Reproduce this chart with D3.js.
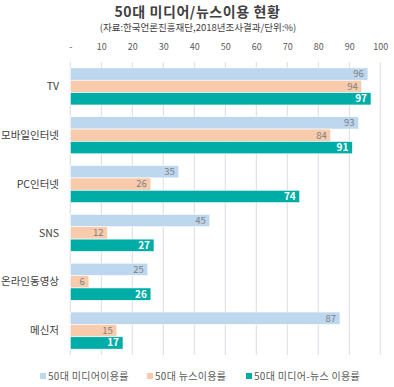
<!DOCTYPE html>
<html><head><meta charset="utf-8">
<script src="https://cdn.jsdelivr.net/npm/d3@7"></script>
<style>body{margin:0;background:#fff}svg{display:block}</style>
</head><body>
<script>
const categories = ["TV","모바일인터넷","PC인터넷","SNS","온라인동영상","메신저"];
const mediaUse = [96,93,35,45,25,87];
const newsUse = [94,84,26,12,6,15];
const mediaNewsUse = [97,91,74,27,26,17];
const seriesNames = ["50대 미디어이용률","50대 뉴스이용률","50대 미디어-뉴스 이용률"];
const tickValues = [0,10,20,30,40,50,60,70,80,90,100];
const tickLabels = ["-","10","20","30","40","50","60","70","80","90","100"];

const W=394,H=387;
const font="'Noto Sans CJK KR','Noto Sans',sans-serif";
const svg=d3.select("body").append("svg").attr("width",W).attr("height",H).style("font-family",font);

const x=d3.scaleLinear().domain([0,100]).range([70.3,380.3]);
const y=d3.scaleBand().domain(categories).range([62,355]).paddingInner(0.24).paddingOuter(0.12);
const sub=d3.scaleBand().domain([0,1,2]).range([0,y.bandwidth()]);
const colors=["#BDD7EE","#F8CBAD","#00ADA6"];
const series=[mediaUse,newsUse,mediaNewsUse];

svg.append("text").attr("x",197.5).attr("y",17).attr("text-anchor","middle").attr("font-size",14).attr("letter-spacing",0.6).attr("font-weight","bold").attr("fill","#404040").text("50대 미디어/뉴스이용 현황");
svg.append("text").attr("x",198).attr("y",31).attr("text-anchor","middle").attr("font-size",9.5).attr("fill","#404040").text("(자료:한국언론진흥재단,2018년조사결과/단위:%)");

// grid
svg.append("g").selectAll("line").data(tickValues).join("line")
 .attr("x1",d=>x(d)).attr("x2",d=>x(d)).attr("y1",62).attr("y2",355)
 .attr("stroke","#D9DDE3").attr("stroke-width",1);

// top axis labels
const ax=d3.axisTop(x).tickValues(tickValues).tickFormat((d,i)=>tickLabels[i]).tickSize(0);
const axg=svg.append("g").attr("transform","translate(0,53)").call(ax);
axg.select(".domain").remove();
axg.selectAll("text").attr("font-size",9).attr("fill","#595959").style("font-family",font);

// category labels
const yax=d3.axisLeft(y).tickSize(0);
const yg=svg.append("g").attr("transform","translate(62,0)").call(yax);
yg.select(".domain").remove();
yg.selectAll("text").attr("font-size",10.5).attr("fill","#404040").style("font-family",font).attr("dy","0.35em");

series.forEach((vals,si)=>{
  const g=svg.append("g");
  g.selectAll("rect").data(vals).join("rect")
   .attr("x",x(0)).attr("y",(d,i)=>y(categories[i])+sub(si))
   .attr("width",d=>x(d)-x(0)).attr("height",sub.bandwidth())
   .attr("fill",colors[si]).attr("stroke","#fff").attr("stroke-width",0.6);
  g.selectAll("text").data(vals).join("text")
   .attr("x",d=>x(d)-4).attr("y",(d,i)=>y(categories[i])+sub(si)+sub.bandwidth()/2)
   .attr("dy","0.35em").attr("text-anchor","end")
   .attr("font-size",si===2?10:9.5).attr("font-weight",si===2?"bold":"normal")
   .attr("fill",si===2?"#fff":"#7F7F7F").text(d=>d);
});

// legend
const lx=[40,147,246];
const lg=svg.append("g");
seriesNames.forEach((n,i)=>{
  lg.append("rect").attr("x",lx[i]).attr("y",373).attr("width",6).attr("height",6).attr("fill",colors[i]);
  lg.append("text").attr("x",lx[i]+8).attr("y",380).attr("font-size",10).attr("letter-spacing",0.3).attr("fill","#595959").text(n);
});
</script>
</body></html>
